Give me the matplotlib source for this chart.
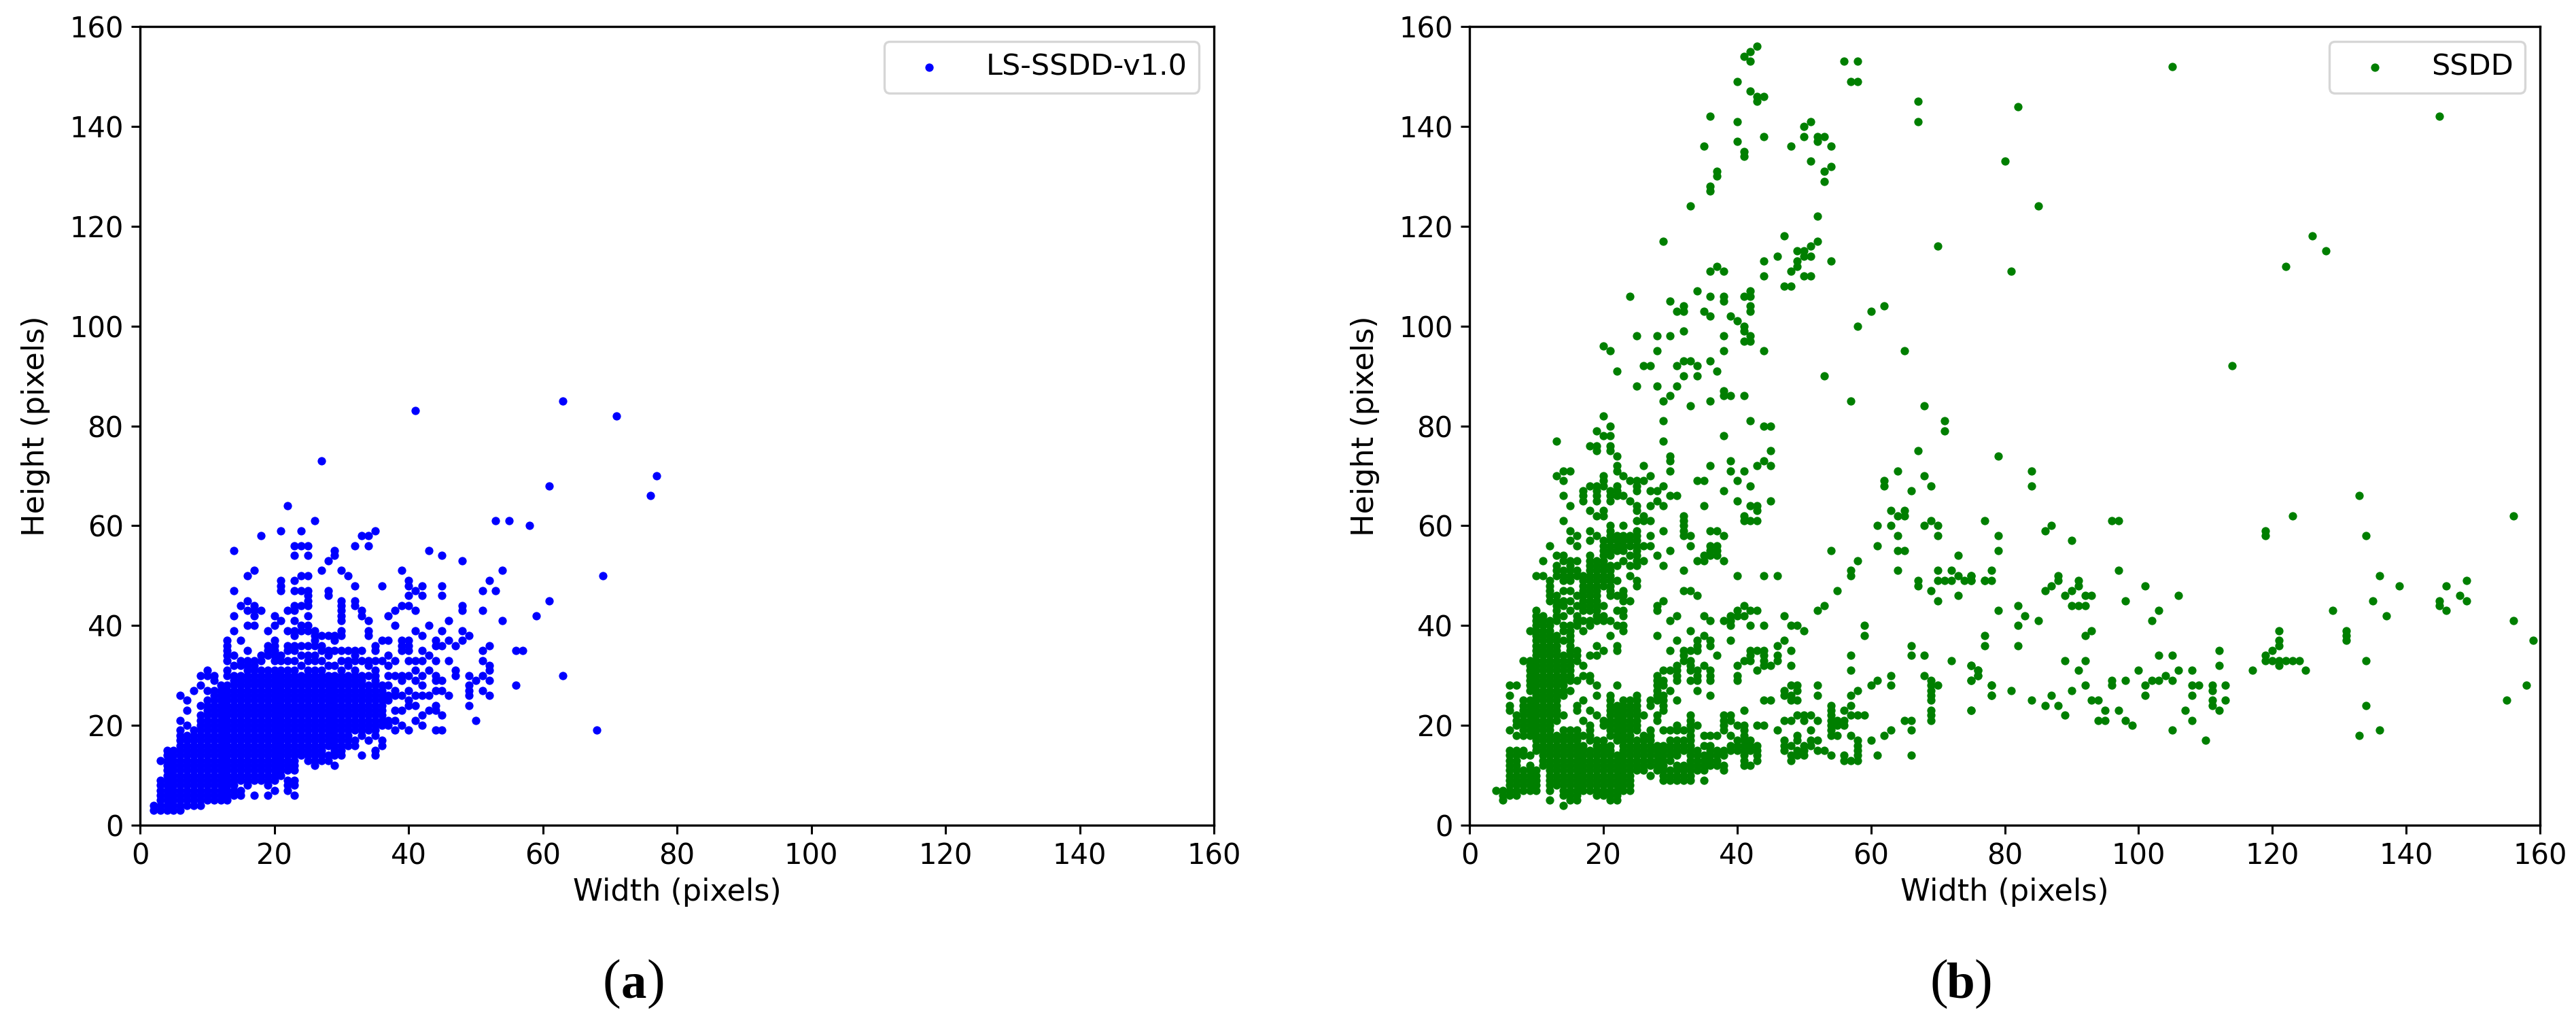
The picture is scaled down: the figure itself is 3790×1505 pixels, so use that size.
import matplotlib
matplotlib.use("Agg")
import matplotlib.pyplot as plt

# ---------- Panel (a): LS-SSDD-v1.0, heights listed per width ----------
a_widths = [2,3,4,5,6,7,8,9,10,11,12,13,14,15,16,17,18,19,20,21,22,23,24,25,26,27,28,29,30,31,32,33,34,35,
            36,37,38,39,40,41,42,43,44,45,46,47,48,49,50,51,52,53,54,55,56,57,58,59,61,63,68,69,71,76,77]
a_heights = [
 [3,4],
 [3,4,5,6,7,8,9,13],
 [3,4,5,6,7,8,9,10,11,12,13,14,15],
 [3,4,5,6,7,8,9,10,11,12,13,14,15],
 [3,4,5,6,7,8,9,10,11,12,13,14,15,16,17,18,19,21,26],
 [4,5,6,7,8,9,10,11,12,13,14,15,16,17,18,20,23,25],
 [4,5,6,7,8,9,10,11,12,13,14,15,16,17,18,19,27],
 [4,5,6,7,8,9,10,11,12,13,14,15,16,17,18,19,20,21,22,24,28,30],
 [5,6,7,8,9,10,11,12,13,14,15,16,17,18,19,20,21,22,23,24,25,27,30,31],
 [5,6,7,8,9,10,11,12,13,14,15,16,17,18,19,20,21,22,23,24,25,26,27,29,30],
 [5,6,7,8,9,10,11,12,13,14,15,16,17,18,19,20,21,22,23,24,25,26,27,28],
 [5,6,7,8,9,10,11,12,13,14,15,16,17,18,19,20,21,22,23,24,25,26,27,28,30,31,33,34,35,36,37],
 [6,7,8,9,10,11,12,13,14,15,16,17,18,19,20,21,22,23,24,25,26,27,28,29,30,32,34,39,42,47,55],
 [6,7,9,10,11,12,13,14,15,16,17,18,19,20,21,22,23,24,25,26,27,28,29,30,32,33,37,44],
 [8,9,10,11,12,13,14,15,16,17,18,19,20,21,22,23,24,25,26,27,28,29,30,31,32,33,35,40,43,45,50],
 [6,9,10,11,12,13,14,15,16,17,18,19,20,21,22,23,24,25,26,27,28,29,30,31,32,33,40,42,43,44,51],
 [9,10,11,12,13,14,15,16,17,18,19,20,21,22,23,24,25,26,27,28,29,30,31,33,34,43,58],
 [6,8,9,10,11,12,13,14,15,16,17,18,19,20,21,22,23,24,25,26,27,28,29,30,31,34,35,36,39],
 [7,9,10,11,12,13,14,15,16,17,18,19,20,21,22,23,24,25,26,27,28,29,30,31,33,34,35,36,37,40,42],
 [10,11,12,13,14,15,16,17,18,19,20,21,22,23,24,25,26,27,28,29,30,31,33,34,41,47,48,49,59],
 [7,8,9,11,12,13,14,15,16,17,18,19,20,21,22,23,24,25,26,27,28,29,30,31,33,35,36,39,43,64],
 [6,8,9,11,12,13,14,15,16,17,18,19,20,21,22,23,24,25,26,27,28,29,30,31,33,35,36,38,39,41,43,44,47,49,54,56],
 [14,15,16,17,18,19,20,21,22,23,24,25,26,27,28,29,30,32,34,36,39,40,44,47,50,56,59],
 [13,14,15,16,17,18,19,20,21,22,23,24,25,26,27,28,29,30,31,33,34,36,39,40,42,44,45,46,47,50,54,56],
 [12,13,14,15,16,17,18,19,20,21,22,23,24,25,26,27,28,29,30,31,33,34,36,37,38,39,61],
 [13,14,15,16,17,18,19,20,21,22,23,24,25,26,27,28,29,30,31,33,35,36,38,51,73],
 [13,14,16,17,18,19,20,21,22,23,24,25,26,27,28,29,30,32,34,35,38,46,47,53],
 [12,14,15,16,17,18,19,20,21,22,23,24,25,26,27,28,29,30,32,35,37,38,54,55],
 [14,15,16,17,18,19,20,21,22,23,24,25,26,27,28,29,30,31,33,35,38,39,41,42,43,44,45,51],
 [16,17,18,19,20,21,22,23,24,25,26,27,28,29,30,32,33,35,50],
 [16,17,19,20,21,22,23,24,25,26,27,28,29,30,31,33,34,35,44,45,48,56],
 [14,18,19,20,21,22,23,24,25,26,27,28,29,30,33,35,42,43,58],
 [17,19,20,21,22,23,24,25,26,27,28,30,32,33,38,39,41,56,58],
 [14,15,18,19,20,21,22,23,24,25,26,27,28,29,30,31,33,35,36,59],
 [16,17,20,21,22,23,24,25,26,27,28,33,37,48],
 [20,21,25,26,28,30,32,34,37,42],
 [19,21,23,26,27,30,33,40,43],
 [20,23,26,29,30,35,36,37,44,51],
 [19,24,25,27,30,33,35,36,37,44,46,48,49],
 [21,24,26,29,31,33,39,43,47,83],
 [20,22,26,28,30,33,35,38,46,48],
 [23,26,31,34,40,55],
 [19,23,24,27,29,30,33,36,37],
 [19,22,27,29,36,39,46,48,54],
 [26,33,37,41],
 [30,31,36],
 [37,39,43,44,53],
 [24,26,27,28,30,38],
 [21,29],
 [27,30,33,35,43,47],
 [26,29,31,32,36,49],
 [47,61],
 [41,51],
 [61],
 [28,35],
 [35],
 [60],
 [42],
 [45,68],
 [30,85],
 [19],
 [50],
 [82],
 [66],
 [70],
]

# ---------- Panel (b): SSDD ----------
# upper part, (width, height) read point by point
b_top = [(43,156),(42,155),(41,154),(42,153),(56,153),(58,153),(40,149),(57,149),(58,149),(42,147),(43,146),(44,146),(43,145),
 (67,145),(67,141),(36,142),(40,141),(51,141),(50,140),(50,138),(52,138),(53,138),(52,137),(44,138),(40,137),(35,136),(48,136),(54,136),
 (41,135),(41,134),(51,133),(54,132),(53,131),(53,129),(37,131),(37,130),(36,128),(36,127),(33,124),(52,122),(47,118),
 (29,117),(52,117),(51,116),(70,116),(49,115),(50,115),(50,114),(51,114),(46,114),(44,113),(49,113),(54,113),(49,112),
 (37,112),(36,111),(38,111),(48,111),(44,110),(50,110),(51,110),(47,108),(48,108),(42,107),(34,107),
 (24,106),(36,106),(38,106),(41,106),(42,106),(30,105),(38,105),(32,104),(42,104),(62,104),(31,103),(32,103),(35,103),(42,103),(60,103),
 (36,102),(39,102),(40,101),(41,100),(58,100),(41,99),(32,99),(25,98),(28,98),(30,98),(38,98),(42,98),(41,97),(42,97),
 (20,96),(21,95),(28,95),(38,95),(44,95),(65,95),(32,93),(33,93),(36,93),(26,92),(27,92),(31,92),(34,92),(22,91),(37,91),
 (32,90),(34,90),(53,90),(25,88),(28,88),(31,88),(38,87),(30,86),(38,86),(39,86),(41,86),(29,85),(36,85),(57,85),(33,84),(68,84),
 (20,82),(29,81),(42,81),(71,81)]

# right part, (width, height) read point by point
b_right = [(105,152),(82,144),(80,133),(85,124),(81,111),(145,142),(126,118),(128,115),(122,112),(114,92),(79,74),(84,71),(84,68),
 (77,61),(86,59),(87,60),(79,58),(79,55),(90,57),(96,61),(97,61),(133,66),(134,58),(123,62),(119,59),(119,58),(156,62),
 (78,51),(77,49),(78,49),(75,50),(75,49),(97,51),(88,50),(88,49),(91,49),(91,48),(87,48),(86,47),(90,47),(89,46),(92,46),(93,46),
 (90,44),(91,44),(92,44),(82,44),(83,42),(79,43),(82,40),(85,41),(98,45),(101,48),(106,46),(103,43),(102,41),
 (93,39),(92,38),(77,38),(77,36),(82,36),(136,50),(135,45),(139,48),(137,42),(129,43),
 (146,48),(145,45),(145,44),(146,43),(149,49),(148,46),(149,45),(156,41),(159,37),(131,39),(131,38),(131,37),(134,33),
 (121,39),(121,37),(121,36),(120,35),(119,34),(119,33),(120,33),(121,33),(122,33),(123,33),(124,33),(121,32),(125,31),(117,31),
 (112,35),(112,32),(105,34),(103,34),(100,31),(106,31),(108,31),(104,30),(102,29),(103,29),(105,29),(98,29),(96,29),(96,28),(101,28),
 (108,28),(109,28),(111,28),(113,28),(111,27),(108,26),(101,26),
 (89,33),(92,33),(91,31),(92,28),(90,27),(87,26),(84,25),(86,24),(88,24),(89,22),(93,25),(94,25),(95,23),(97,23),(94,21),(95,21),
 (98,21),(99,20),(105,19),(107,23),(108,21),(110,17),(111,25),(111,24),(112,23),(113,25),
 (78,28),(78,26),(81,27),(76,31),(76,30),(75,32),(75,29),(75,23),(134,24),(133,18),(136,19),(155,25),(158,28)]

# dense lower-left part, widths listed per height
b_row_heights = [80,79,78,77,76,75,74,73,72,71,70,69,68,67,66,65,64,63,62,61,60,59,58,57,56,55,54,53,52,51,50,49,48,47,46,45,44,43,42,41,40,
                 39,38,37,36,35,34,33,32,31,30,29,28,27,26,25,24,23,22,21,20,19,18,17,16,15,14,13,12,11,10,9,8,7,6,5,4]
b_row_widths = [
 [21,44,45],[71,19],[20,21,38],[13,29],[18,19,21],[19,21,45,67],[22,30],[30,39,44],[22,26,36,43,45],[22,14,15,30,39,41,64],[13,20,23,27,68],
 [14,20,24,25,26,34,35,40,62],[18,19,20,22,25,29,42,62,69],[17,19,21,22,25,27,28,38,66],[17,19,21,22,23,14,30,31],[17,19,21,24,28,40,45],
 [15,25,27,29,35,42,43],[18,20,25,43,63,65],[19,20,26,32,41,64,65],[14,25,26,27,32,41,42,43,69],[23,21,32,61,63,68,70],[15,18,21,25,29,32,36,37],
 [16,19,21,22,23,24,25,27,32,33,38,64,70],[15,18,20,21,22,23,24,25],[12,16,20,21,22,23,24,25,26,27,33,36,37,61],[20,21,22,23,25,30,36,37,54,64,65],
 [13,14,18,20,21,24,25,28,35,36,37,73],[11,14,15,16,18,19,20,23,25,26,34,35,38,58],[13,15,18,19,20,21,22,24,25,29],
 [13,14,15,16,18,19,20,21,32,57,64,70,72],[10,11,13,14,15,16,17,18,19,20,21,24,40,44,46,57,73,75],
 [12,14,15,17,18,19,20,21,22,25,67,70,71,72,74,75,77],[12,17,18,19,20,21,25,67],[12,14,15,17,18,19,21,23,32,33,55,69],[12,13,16,17,18,19,21,22,23,34,73],
 [12,13,14,15,17,18,19,23,24,29,70],[13,14,16,17,18,19,20,28,41,53],[10,13,15,17,18,19,22,23,28,40,42,43,52],[10,11,13,14,16,19,20,23,31,35,39,40,41,47],
 [10,11,12,13,16,17,18,19,20,21,30,36,38,39],[10,11,12,14,15,16,18,22,23,39,42,44,48,49,59],
 [9,10,11,12,14,15,17,23,33,50],[10,11,12,13,15,21,28,35,59],[10,11,12,13,14,15,31,34,36,39,47],[10,11,12,13,15,19,22,34,36,46,66],
 [10,11,12,13,15,16,20,22,30,32,33,34,42,43,44,48],[10,11,12,13,14,15,16,18,19,32,37,42,44,46,57,66,68],[8,9,10,11,12,13,14,15,16,32,33,41,42,44,46,72],
 [9,10,11,12,13,14,15,17,31,33,35,40,44,45,48,75],[9,10,11,12,13,14,15,29,30,31,33,34,36,43,57,76],[9,10,11,12,13,14,15,17,18,28,31,34,36,40,63,68,76],
 [9,10,11,12,13,14,15,16,18,28,29,31,33,34,36,40,61,69,75],[6,7,9,10,11,12,13,14,19,22,28,29,48,49,52,60,63,69,70,78],[9,10,11,12,13,14,15,28,30,34,47,49,58,69],
 [6,10,11,12,13,14,19,21,25,28,29,36,47,48,52,57,69,78],[8,9,10,11,12,13,17,21,23,24,25,27,28,29,31,44,45,48,49,69],
 [6,8,9,10,11,12,13,16,21,22,23,24,25,27,29,54,57],[6,8,9,10,11,12,13,16,18,21,22,23,24,25,29,41,54,56,69,75],
 [7,8,9,10,11,12,13,14,19,21,22,23,24,25,26,28,33,38,39,49,50,51,54,57,58,59,69],[7,8,9,10,11,12,13,17,20,21,22,23,24,25,28,33,38,39,47,48,50,52,54,55,56,65,66,69],
 [7,8,9,10,11,12,18,20,21,22,23,24,25,31,33,34,38,40,41,43,44,54,55,56],[6,8,9,10,11,12,14,15,16,18,21,22,23,24,25,27,29,30,31,32,33,38,41,46,51,54,63,66],
 [7,8,9,10,11,12,13,14,15,16,17,18,21,22,23,24,26,27,33,35,36,37,39,41,49,54,55,57,62],[10,11,12,13,14,15,16,18,19,20,22,23,24,25,26,27,30,31,32,33,40,41,42,47,49,51,52,58,60],
 [10,11,12,13,14,15,16,17,19,20,21,23,24,25,26,27,28,29,30,31,32,33,35,36,39,40,41,42,43,47,48,50,51,58],
 [6,7,8,10,11,12,13,14,15,16,17,18,19,20,21,23,24,25,26,27,28,29,30,31,32,33,34,36,37,38,39,40,41,42,43,47,49,50,52,53,58],
 [6,7,8,9,11,12,13,14,15,16,17,18,19,20,21,22,23,24,25,26,27,28,29,30,31,33,34,35,36,37,38,41,43,48,49,50,54,56,58,61,66],
 [6,7,11,12,13,14,15,16,17,18,19,20,21,22,23,24,25,26,27,28,29,30,33,34,35,36,37,41,43,48,56,57,58],
 [6,7,9,11,12,13,14,15,16,17,18,19,20,21,22,23,24,25,26,27,28,29,31,32,33,34,35,36,37,38,41,42],
 [6,7,8,9,10,12,13,14,15,16,17,18,19,20,21,22,23,24,25,26,28,29,30,31,32,33,34,35,38],
 [6,7,8,9,10,12,13,14,15,16,17,18,19,20,21,22,23,24,27,29,30,31,32,33],
 [6,7,8,9,10,12,13,14,15,16,17,18,19,20,21,22,23,24,29,30,31,32,33,35],
 [6,7,8,9,10,12,13,14,15,16,17,18,19,20,21,22,23,24],
 [4,5,6,7,8,9,10,12,14,15,16,17,18,19,20,21,22,23,24],
 [5,6,7,14,15,16,19,20,21,22],
 [5,12,15,16,21,22],
 [14],
]

a_w = [w for w, hs in zip(a_widths, a_heights) for _ in hs]
a_h = [h for hs in a_heights for h in hs]
b_sparse = b_top + b_right
b_w = [p[0] for p in b_sparse] + [w for ws in b_row_widths for w in ws]
b_h = [p[1] for p in b_sparse] + [h for h, ws in zip(b_row_heights, b_row_widths) for _ in ws]

ticks = [0, 20, 40, 60, 80, 100, 120, 140, 160]
W, H = 3790, 1505
fig = plt.figure(figsize=(W / 100, H / 100), dpi=100, facecolor="white")


def panel(x0, x1, xs, ys, color, label):
    ax = fig.add_axes([x0 / W, 1 - 1214 / H, (x1 - x0) / W, (1214 - 39) / H])
    ax.scatter(xs, ys, s=78, c=color, linewidths=0, label=label)
    ax.set_xlim(0, 160)
    ax.set_ylim(0, 160)
    ax.set_xticks(ticks)
    ax.set_yticks(ticks)
    ax.tick_params(labelsize=30, width=2.2, length=9.5, pad=8)
    ax.set_xlabel("Width (pixels)", fontsize=32, labelpad=8)
    ax.set_ylabel("Height (pixels)", fontsize=32, labelpad=20)
    for s in ax.spines.values():
        s.set_linewidth(2.4)
    leg = ax.legend(loc="upper right", fontsize=31, handlelength=2.3)
    leg.get_frame().set_linewidth(2.4)
    return ax


panel(206, 1786, a_w, a_h, "#0000ff", "LS-SSDD-v1.0")
panel(2162, 3737, b_w, b_h, "#007f00", "SSDD")

# sub-figure captions: regular parentheses around a bold letter
base_y = 1 - 1468 / H
for cx, letter in ((932, "a"), (2885, "b")):
    fig.text((cx - 19) / W, base_y, "(", fontsize=58, family="Liberation Serif", ha="right", va="baseline")
    fig.text(cx / W, base_y, letter, fontsize=54, family="Liberation Serif", fontweight="bold", ha="center", va="baseline")
    fig.text((cx + 19) / W, base_y, ")", fontsize=58, family="Liberation Serif", ha="left", va="baseline")

fig.savefig("out.png", dpi=100)
